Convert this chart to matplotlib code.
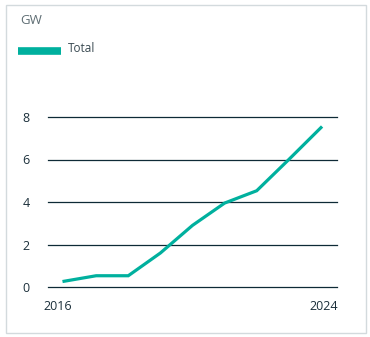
import matplotlib.pyplot as plt
import matplotlib.transforms as mtransforms
from matplotlib.patches import Rectangle
from matplotlib.lines import Line2D

plt.rcParams['font.family'] = ['Open Sans', 'DejaVu Sans']

years = [2016, 2017, 2018, 2019, 2020, 2021, 2022, 2023, 2024]
total_gw = [0.27, 0.53, 0.53, 1.6, 2.9, 3.95, 4.53, 6.0, 7.5]
yticks = [0, 2, 4, 6, 8]
xticks = [2016, 2024]

teal = '#00b09e'
ink = '#1b2f3a'

fig = plt.figure(figsize=(3.7, 3.37), dpi=100)
fig.patch.set_facecolor('white')

# thin frame around the whole card
fig.patches.append(Rectangle((5.5 / 370, 4.5 / 337), 360 / 370, 327.5 / 337,
                             transform=fig.transFigure, fill=False,
                             edgecolor='#d3dadd', linewidth=1.0))

ax = fig.add_axes([48 / 370, 1 - 287 / 337, 289 / 370, 170 / 337])
ax.plot(years, total_gw, color=teal, linewidth=2.3, solid_joinstyle='miter',
        clip_on=False, zorder=3)

ax.set_xlim(2015.5, 2024.5)
ax.set_ylim(0, 8)
ax.set_yticks(yticks)
ax.set_xticks(xticks)
ax.set_xticklabels([str(x) for x in xticks])
for y in yticks:
    ax.axhline(y, color='#0e2a36', linewidth=0.9, zorder=1, clip_on=False)

for s in ax.spines.values():
    s.set_visible(False)
ax.tick_params(axis='both', length=0, labelsize=9, labelcolor=ink)
ax.tick_params(axis='y', pad=13)
ax.tick_params(axis='x', pad=9)

# first/last year labels sit a little outwards
for lab, dx in zip(ax.get_xticklabels(), [-6, 3]):
    lab.set_transform(lab.get_transform() +
                      mtransforms.ScaledTranslation(dx / 100, 0, fig.dpi_scale_trans))

fig.text(20 / 370, 1 - 20 / 337, 'GW', fontsize=9.5, color='#5f6e74',
         va='center', ha='left')
fig.lines.append(Line2D([18 / 370, 61 / 370], [1 - 50.5 / 337, 1 - 50.5 / 337],
                        transform=fig.transFigure, color=teal, linewidth=5.5,
                        solid_capstyle='butt'))
fig.text(68 / 370, 1 - 49 / 337, 'Total', fontsize=8.5, color='#3a4a52',
         va='center', ha='left')

fig.savefig('out.png', dpi=100)
